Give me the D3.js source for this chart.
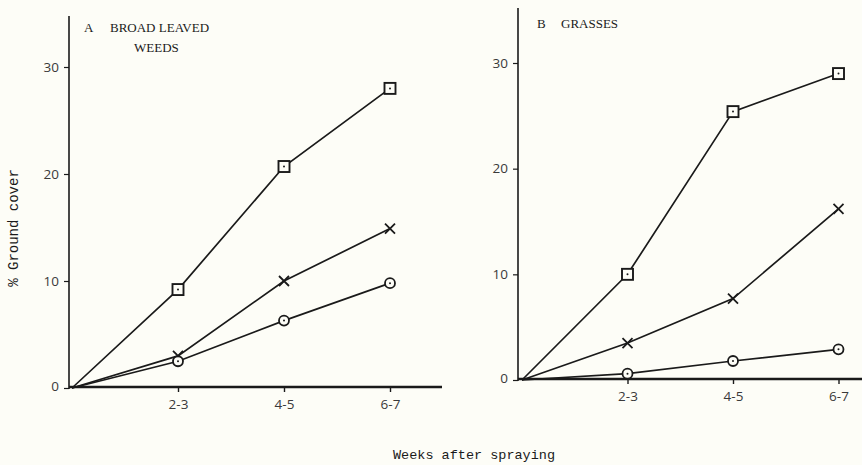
<!DOCTYPE html>
<html>
<head>
<meta charset="utf-8">
<script src="https://cdn.jsdelivr.net/npm/d3@7/dist/d3.min.js"></script>
<style>
  html, body { margin: 0; padding: 0; background: #fdfdf7; }
  svg { display: block; }
</style>
</head>
<body>
<main></main>
<script>
const W = 862, H = 465;
const INK = "#1a1a1a";
const MONO = "Liberation Mono, DejaVu Sans Mono, monospace";
const SERIF = "Liberation Serif, DejaVu Serif, serif";
const SANS = "Open Sans, Liberation Sans, sans-serif";

// x categories (first one is the origin, unlabelled)
const weeks = ["0", "2-3", "4-5", "6-7"];
const yTicks = [0, 10, 20, 30];

// A  broad leaved weeds
const broadSquare = [0, 9.2, 20.7, 28];
const broadCross = [0, 3, 10, 14.9];
const broadCircle = [0, 2.5, 6.3, 9.8];

// B  grasses
const grassSquare = [0, 10, 25.4, 29];
const grassCross = [0, 3.5, 7.7, 16.2];
const grassCircle = [0, 0.6, 1.8, 2.9];

const panels = [
  {
    title: ["A", "BROAD LEAVED", "WEEDS"],
    x0: 72, step: 106, axisX: 69, axisTop: 16, axisRight: 442,
    y0: 388, y30: 67,
    series: [
      { shape: "square", values: broadSquare },
      { shape: "cross", values: broadCross },
      { shape: "circle", values: broadCircle }
    ],
    titlePos: [[84, 32], [110, 32], [134, 52]]
  },
  {
    title: ["B", "GRASSES"],
    x0: 522, step: 105.5, axisX: 518, axisTop: 8, axisRight: 862,
    y0: 380, y30: 63,
    series: [
      { shape: "square", values: grassSquare },
      { shape: "cross", values: grassCross },
      { shape: "circle", values: grassCircle }
    ],
    titlePos: [[537, 28], [561, 28]]
  }
];

const svg = d3
  .create("svg")
  .attr("width", W)
  .attr("height", H)
  .style("background", "#fdfdf7");

panels.forEach((p) => {
  const x = d3
    .scalePoint()
    .domain(weeks)
    .range([p.x0, p.x0 + p.step * (weeks.length - 1)]);
  const y = d3.scaleLinear().domain([0, 30]).range([p.y0, p.y30]);

  const g = svg.append("g");

  // y axis
  const yAxis = d3
    .axisLeft(y)
    .tickValues(yTicks)
    .tickSize(5)
    .tickPadding(5)
    .tickFormat(d3.format("d"));
  const ya = g
    .append("g")
    .attr("transform", "translate(" + p.axisX + ",0)")
    .call(yAxis);
  ya.select(".domain").remove();
  ya.selectAll(".tick line").attr("stroke", INK).attr("stroke-width", 1.2);
  ya.selectAll(".tick text")
    .attr("fill", "#3a3a3a")
    .attr("font-family", SANS)
    .attr("font-size", 13.5);
  ya.select(".tick text").attr("dy", "0.2em");

  g.append("line")
    .attr("x1", p.axisX)
    .attr("x2", p.axisX)
    .attr("y1", p.axisTop)
    .attr("y2", p.y0 + 1)
    .attr("stroke", INK)
    .attr("stroke-width", 1.6);

  // x axis
  const xAxis = d3.axisBottom(x).tickValues(weeks.slice(1)).tickSize(5).tickPadding(7);
  const xa = g
    .append("g")
    .attr("transform", "translate(0," + (p.y0 - 1) + ")")
    .call(xAxis);
  xa.select(".domain").remove();
  xa.selectAll(".tick line").attr("stroke", INK).attr("stroke-width", 1.4);
  xa.selectAll(".tick text")
    .attr("fill", "#3a3a3a")
    .attr("font-family", SANS)
    .attr("font-size", 13.5);

  g.append("line")
    .attr("x1", p.axisX)
    .attr("x2", p.axisRight)
    .attr("y1", p.y0 - 1)
    .attr("y2", p.y0 - 1)
    .attr("stroke", INK)
    .attr("stroke-width", 2.4);

  // panel title (typewritten capitals)
  p.title.forEach((t, i) => {
    g.append("text")
      .attr("x", p.titlePos[i][0])
      .attr("y", p.titlePos[i][1])
      .attr("font-family", SERIF)
      .attr("font-size", 13)
      .attr("fill", INK)
      .text(t);
  });

  // series
  const line = d3
    .line()
    .x((d, i) => x(weeks[i]))
    .y((d) => y(d));

  p.series.forEach((s) => {
    g.append("path")
      .attr("d", line(s.values))
      .attr("fill", "none")
      .attr("stroke", INK)
      .attr("stroke-width", 1.7);

    const pts = g
      .append("g")
      .selectAll("g")
      .data(s.values.slice(1))
      .join("g")
      .attr("transform", (d, i) => "translate(" + x(weeks[i + 1]) + "," + y(d) + ")");

    if (s.shape === "square") {
      pts.append("rect")
        .attr("x", -5.5).attr("y", -5.5).attr("width", 11).attr("height", 11)
        .attr("fill", "#fdfdf7").attr("stroke", INK).attr("stroke-width", 1.9);
      pts.append("circle").attr("r", 1).attr("fill", INK);
    } else if (s.shape === "circle") {
      pts.append("circle")
        .attr("r", 5)
        .attr("fill", "#fdfdf7").attr("stroke", INK).attr("stroke-width", 1.8);
      pts.append("circle").attr("r", 1).attr("fill", INK);
    } else {
      pts.append("path")
        .attr("d", "M-5,-5L5,5M-5,5L5,-5")
        .attr("stroke", INK)
        .attr("stroke-width", 1.8);
    }
  });
});

// shared axis titles
svg.append("text")
  .attr("transform", "translate(18,228) rotate(-90)")
  .attr("text-anchor", "middle")
  .attr("font-family", MONO)
  .attr("font-size", 14)
  .attr("fill", INK)
  .text("% Ground cover");

svg.append("text")
  .attr("x", 474)
  .attr("y", 459)
  .attr("text-anchor", "middle")
  .attr("font-family", MONO)
  .attr("font-size", 13.5)
  .attr("fill", INK)
  .text("Weeks after spraying");

document.querySelector("main").append(svg.node());
</script>
</body>
</html>
